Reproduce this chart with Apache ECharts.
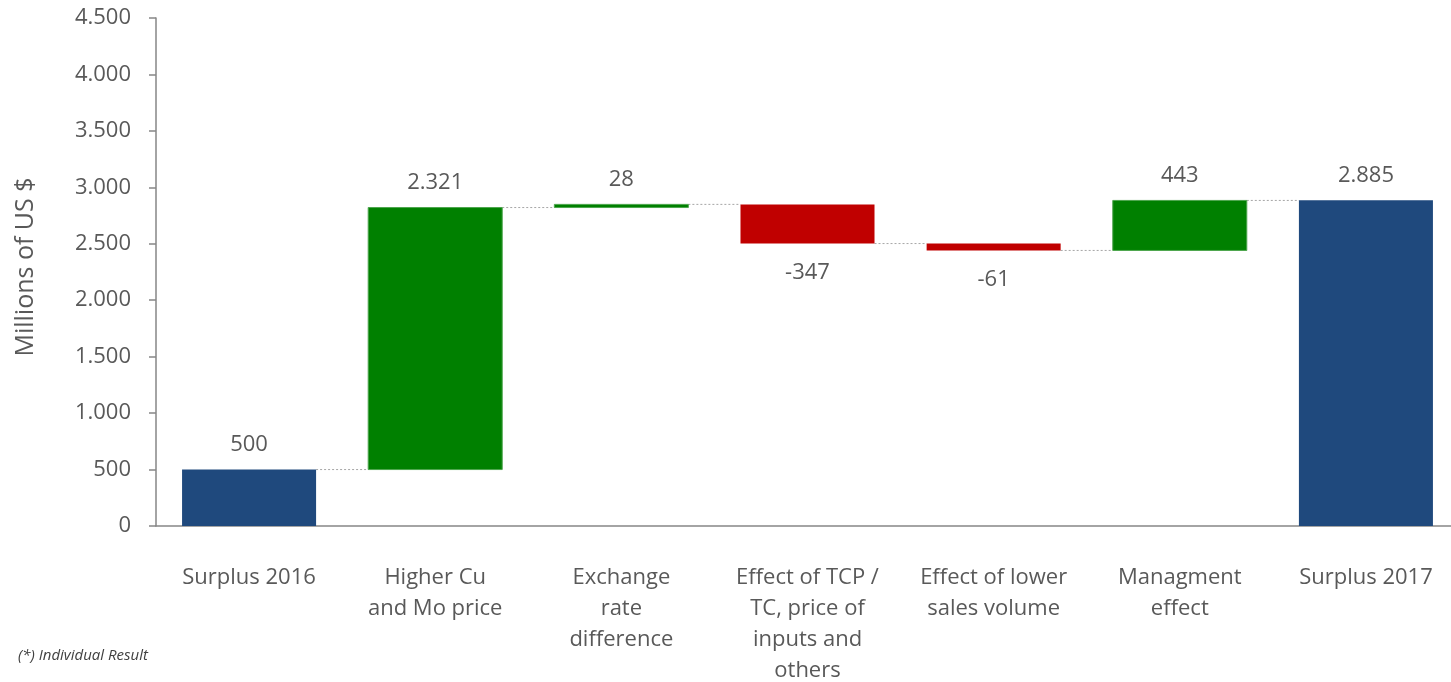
<!DOCTYPE html>
<html>
<head>
<meta charset="utf-8">
<script src="https://cdn.jsdelivr.net/npm/echarts@6/dist/echarts.min.js"></script>
<style>
html,body{margin:0;padding:0;background:#fff;}
#c{width:1451px;height:682px;}
</style>
</head>
<body>
<div id="c"></div>
<script>
const categories = [
  "Surplus 2016",
  "Higher Cu\nand Mo price",
  "Exchange\nrate\ndifference",
  "Effect of TCP /\nTC, price of\ninputs and\nothers",
  "Effect of lower\nsales volume",
  "Managment\neffect",
  "Surplus 2017"
];
const values = [500, 2321, 28, -347, -61, 443, 2885];
const isTotal = [true, false, false, false, false, false, true];
const yTicks = { min: 0, max: 4500, interval: 500 };

const COLORS = { total: "#1F497D", up: "#008000", down: "#C00000" };
const TEXT = "#595959";
const FONT = "'Open Sans', sans-serif";

function fmt(v) {
  const s = String(Math.abs(v)).replace(/\B(?=(\d{3})+(?!\d))/g, ".");
  return (v < 0 ? "-" : "") + s;
}

// build waterfall ranges
const rows = [];
let running = 0;
values.forEach((v, i) => {
  let lo, hi, kind;
  if (isTotal[i]) { lo = 0; hi = v; running = v; kind = "total"; }
  else {
    const start = running, end = running + v;
    lo = Math.min(start, end); hi = Math.max(start, end);
    running = end; kind = v >= 0 ? "up" : "down";
  }
  rows.push([i, lo, hi, v, kind, running]);
});
const connectors = [];
for (let i = 0; i < rows.length - 1; i++) connectors.push([i, rows[i][5]]);

const chart = echarts.init(document.getElementById("c"));
chart.setOption({
  animation: false,
  grid: { left: 156, top: 18, width: 1303, bottom: 156, outerBoundsMode: "none", containLabel: false },
  xAxis: {
    type: "category",
    data: categories,
    axisLine: { lineStyle: { color: "#868686", width: 1.5 } },
    axisTick: { show: false },
    axisLabel: {
      interval: 0, color: TEXT, fontFamily: FONT, fontSize: 22,
      lineHeight: 31, margin: 36, verticalAlign: "top"
    }
  },
  yAxis: {
    type: "value",
    min: yTicks.min, max: yTicks.max, interval: yTicks.interval,
    name: "Millions of US $",
    nameLocation: "middle",
    nameGap: 118,
    nameTextStyle: { color: TEXT, fontFamily: FONT, fontSize: 25, padding: [0, 0, 0, 10] },
    axisLine: { show: true, lineStyle: { color: "#868686", width: 1.5 } },
    axisTick: { show: true, length: 7, lineStyle: { color: "#868686", width: 1.5 } },
    splitLine: { show: false },
    axisLabel: { color: TEXT, fontFamily: FONT, fontSize: 22, margin: 25, formatter: v => fmt(v) }
  },
  graphic: [{
    type: "text", left: 18, top: 648,
    style: { text: "(*) Individual Result", fill: "#404040", font: "italic 15px 'Open Sans', sans-serif" }
  }],
  series: [
    {
      type: "custom",
      data: connectors,
      encode: { x: 0, y: 1 },
      z: 1,
      renderItem: function (params, api) {
        const i = api.value(0), v = api.value(1);
        const bw = api.size([1, 0])[0];
        const half = bw * 0.72 / 2;
        const p0 = api.coord([i, v]);
        const p1 = api.coord([i + 1, v]);
        return {
          type: "line",
          shape: { x1: p0[0] + half, y1: p0[1], x2: p1[0] - half, y2: p1[1] },
          style: { stroke: "#A6A6A6", lineWidth: 1, lineDash: [2, 2] }
        };
      }
    },
    {
      type: "custom",
      data: rows,
      encode: { x: 0, y: [1, 2] },
      z: 2,
      renderItem: function (params, api) {
        const r = rows[params.dataIndex];
        const i = r[0], lo = r[1], hi = r[2], v = r[3], kind = r[4];
        const bw = api.size([1, 0])[0] * 0.72;
        const pTop = api.coord([i, hi]);
        const pBot = api.coord([i, lo]);
        const h = Math.max(pBot[1] - pTop[1], 1);
        const neg = kind === "down";
        return {
          type: "group",
          children: [
            {
              type: "rect",
              shape: { x: pTop[0] - bw / 2, y: pTop[1], width: bw, height: h },
              style: { fill: COLORS[kind], stroke: kind === "up" ? "#4DA64D" : null, lineWidth: kind === "up" ? 1 : 0 }
            },
            {
              type: "text",
              style: {
                text: fmt(v),
                x: pTop[0],
                y: neg ? pBot[1] + 29 : pTop[1] - 25,
                align: "center", verticalAlign: "middle",
                fill: TEXT, font: "22px 'Open Sans', sans-serif"
              }
            }
          ]
        };
      }
    }
  ]
});
</script>
</body>
</html>
